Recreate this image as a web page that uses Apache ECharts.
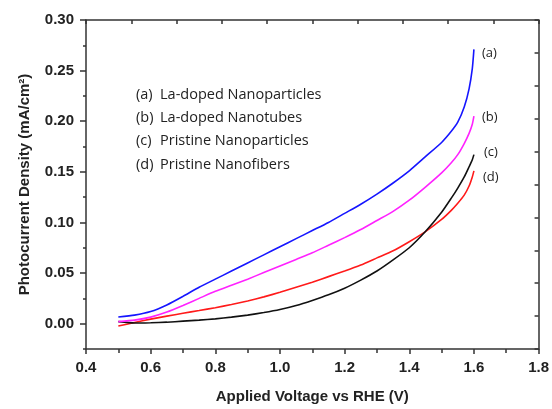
<!DOCTYPE html>
<html>
    <head>
        <meta charset="UTF-8">
        <script src="https://cdn.jsdelivr.net/npm/echarts@6/dist/echarts.min.js"></script>
        <style>
            html, body { margin: 0; padding: 0; background: #fff; }
            #main { width: 552px; height: 409px; }
        </style>
    </head>
    <body>
        <div id="main"></div>
        <script>
            // applied voltage (V vs RHE)
            var voltage = [0.5, 0.55, 0.6, 0.65, 0.7, 0.75, 0.8, 0.85, 0.9, 0.95, 1.0, 1.05, 1.1, 1.15, 1.2, 1.25, 1.3, 1.35, 1.4, 1.45, 1.5, 1.53, 1.55, 1.57, 1.585, 1.595, 1.6];
            // photocurrent density (mA/cm2)
            var laNanoparticles = [0.0066, 0.0085, 0.012, 0.0185, 0.027, 0.036, 0.044, 0.052, 0.060, 0.068, 0.076, 0.084, 0.092, 0.100, 0.109, 0.118, 0.128, 0.139, 0.151, 0.165, 0.179, 0.190, 0.199, 0.214, 0.232, 0.252, 0.271];
            var laNanotubes = [0.002, 0.0035, 0.0065, 0.0115, 0.018, 0.025, 0.032, 0.038, 0.044, 0.0505, 0.057, 0.0635, 0.070, 0.0775, 0.085, 0.093, 0.102, 0.111, 0.122, 0.135, 0.149, 0.159, 0.167, 0.178, 0.188, 0.197, 0.205];
            var pristineNanoparticles = [0.002, 0.0007, 0.001, 0.0015, 0.0025, 0.0035, 0.0048, 0.0065, 0.0085, 0.011, 0.014, 0.018, 0.023, 0.0285, 0.035, 0.043, 0.052, 0.063, 0.075, 0.091, 0.110, 0.124, 0.134, 0.145, 0.155, 0.162, 0.167];
            var pristineNanofibers = [-0.0023, 0.0012, 0.0045, 0.0075, 0.0103, 0.013, 0.0158, 0.019, 0.0225, 0.0265, 0.031, 0.036, 0.041, 0.0465, 0.052, 0.058, 0.065, 0.072, 0.081, 0.091, 0.103, 0.112, 0.119, 0.127, 0.136, 0.145, 0.151];

            var names = ['La-doped Nanoparticles', 'La-doped Nanotubes', 'Pristine Nanoparticles', 'Pristine Nanofibers'];
            var tags = ['(a)', '(b)', '(c)', '(d)'];
            var colors = ['#1515ff', '#ff22ff', '#111111', '#ff1a1a'];
            var values = [laNanoparticles, laNanotubes, pristineNanoparticles, pristineNanofibers];
            var labelShift = [[0, 4], [0, 1], [2, -2], [1, 6]];

            var yMajor = [0, 0.05, 0.1, 0.15, 0.2, 0.25, 0.3];
            var yMinor = [-0.025, 0.025, 0.075, 0.125, 0.175, 0.225, 0.275];

            function pairs(ys) {
                var out = [];
                for (var i = 0; i < voltage.length; i++) {
                    out.push([voltage[i], ys[i]]);
                }
                return out;
            }

            var series = [];
            for (var k = 0; k < names.length; k++) {
                series.push({
                    name: names[k],
                    type: 'line',
                    data: pairs(values[k]),
                    smooth: 0.2,
                    showSymbol: false,
                    color: colors[k],
                    lineStyle: { width: 1.6, color: colors[k] },
                    endLabel: {
                        show: true,
                        formatter: tags[k],
                        offset: labelShift[k],
                        color: '#222',
                        fontFamily: 'Open Sans',
                        fontSize: 13
                    },
                    z: 10 - k
                });
            }

            var axisLineStyle = { onZero: false, lineStyle: { color: '#333', width: 1.5 } };
            var tickFont = { fontFamily: 'Liberation Sans', fontWeight: 'bold', fontSize: 15, color: '#222' };

            var myChart = echarts.init(document.getElementById('main'));
            var option = {
                animation: false,
                backgroundColor: '#fff',
                grid: { left: 86, right: 12, top: 20, bottom: 57 },
                legend: {
                    orient: 'vertical',
                    left: 126,
                    top: 82,
                    icon: 'none',
                    itemWidth: 0,
                    itemHeight: 14,
                    itemGap: 8.3,
                    selectedMode: false,
                    data: names,
                    formatter: function (name) {
                        return '{t|' + tags[names.indexOf(name)] + '}{n|' + name + '}';
                    },
                    textStyle: {
                        color: '#222',
                        fontFamily: 'Open Sans',
                        fontSize: 14.5,
                        rich: {
                            t: { width: 24, fontFamily: 'Open Sans', fontSize: 14.5, color: '#222' },
                            n: { fontFamily: 'Open Sans', fontSize: 14.5, color: '#222' }
                        }
                    }
                },
                xAxis: [
                    {
                        type: 'value',
                        min: 0.4,
                        max: 1.8,
                        interval: 0.2,
                        name: 'Applied Voltage vs RHE (V)',
                        nameLocation: 'middle',
                        nameGap: 40,
                        nameTextStyle: { fontFamily: 'Liberation Sans', fontWeight: 'bold', fontSize: 15, color: '#222' },
                        axisLine: axisLineStyle,
                        axisTick: { show: true, length: 5, lineStyle: { color: '#333', width: 1.5 } },
                        minorTick: { show: true, splitNumber: 2, length: 4, lineStyle: { color: '#333', width: 1.5 } },
                        axisLabel: Object.assign({ margin: 11, formatter: function (v) { return v.toFixed(1); } }, tickFont),
                        splitLine: { show: false }
                    },
                    {
                        type: 'value',
                        position: 'top',
                        min: 0,
                        max: 10,
                        interval: 1,
                        axisLine: axisLineStyle,
                        axisTick: { show: true, inside: true, length: 4, lineStyle: { color: '#333', width: 1.5 } },
                        axisLabel: { show: false },
                        splitLine: { show: false }
                    }
                ],
                yAxis: [
                    {
                        type: 'value',
                        min: -0.025,
                        max: 0.3,
                        name: 'Photocurrent Density (mA/cm²)',
                        nameLocation: 'middle',
                        nameGap: 54,
                        nameTextStyle: { fontFamily: 'Liberation Sans', fontWeight: 'bold', fontSize: 15, color: '#222' },
                        axisLine: axisLineStyle,
                        axisTick: { show: true, length: 6, customValues: yMajor, lineStyle: { color: '#333', width: 1.5 } },
                        axisLabel: Object.assign({ margin: 12, customValues: yMajor, formatter: function (v) { return v.toFixed(2); } }, tickFont),
                        splitLine: { show: false }
                    },
                    {
                        type: 'value',
                        position: 'right',
                        min: 0,
                        max: 10,
                        interval: 1,
                        axisLine: axisLineStyle,
                        axisTick: { show: true, inside: true, length: 4, lineStyle: { color: '#333', width: 1.5 } },
                        axisLabel: { show: false },
                        splitLine: { show: false }
                    },
                    {
                        type: 'value',
                        position: 'left',
                        min: -0.025,
                        max: 0.3,
                        axisLine: { show: false },
                        axisTick: { show: true, length: 3, customValues: yMinor, lineStyle: { color: '#333', width: 1.5 } },
                        axisLabel: { show: false },
                        splitLine: { show: false }
                    }
                ],
                series: series
            };
            myChart.setOption(option, true);
        </script>
    </body>
</html>
